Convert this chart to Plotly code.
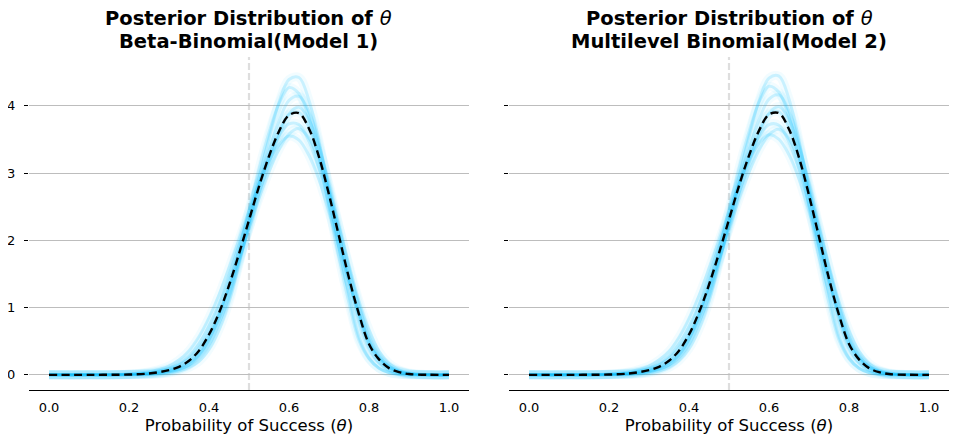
import plotly.graph_objects as go
from plotly.subplots import make_subplots

# theta grid the densities were read at
theta = [0.0, 0.1, 0.2, 0.25, 0.275, 0.3, 0.325, 0.35, 0.375, 0.4, 0.425, 0.45, 0.475, 0.5,
         0.525, 0.55, 0.575, 0.6, 0.625, 0.65, 0.675, 0.7, 0.725, 0.75, 0.775, 0.8, 0.825,
         0.85, 0.875, 0.9, 0.95, 1.0]

# posterior mean density (dashed black), model 1 / model 2
mean_m1 = [0, 0, 0.005, 0.02, 0.04, 0.07, 0.12, 0.21, 0.36, 0.6, 0.92, 1.33, 1.8, 2.3,
           2.8, 3.25, 3.62, 3.86, 3.89, 3.66, 3.24, 2.68, 2.06, 1.44, 0.9, 0.46, 0.23,
           0.1, 0.04, 0.012, 0.001, 0]
mean_m2 = [0, 0, 0.005, 0.02, 0.04, 0.07, 0.12, 0.21, 0.36, 0.6, 0.93, 1.34, 1.81, 2.31,
           2.81, 3.26, 3.63, 3.87, 3.89, 3.65, 3.23, 2.67, 2.05, 1.43, 0.89, 0.46, 0.23,
           0.1, 0.04, 0.012, 0.001, 0]

# a handful of posterior draws (light blue)
draws_m1 = [
    [0, 0, 0, 0.006, 0.012, 0.027, 0.057, 0.11, 0.2, 0.38, 0.67, 1.08, 1.64, 2.26, 2.92, 3.52,
     4.05, 4.39, 4.42, 4.08, 3.48, 2.71, 1.89, 1.17, 0.56, 0.25, 0.1, 0.035, 0.007, 0.002, 0, 0],
    [0, 0, 0.012, 0.045, 0.08, 0.13, 0.22, 0.36, 0.57, 0.85, 1.19, 1.59, 2.01, 2.44, 2.84, 3.18,
     3.42, 3.55, 3.49, 3.26, 2.9, 2.42, 1.9, 1.38, 0.92, 0.52, 0.27, 0.13, 0.06, 0.022, 0.002, 0],
    [0, 0, 0.004, 0.013, 0.021, 0.044, 0.08, 0.144, 0.26, 0.45, 0.77, 1.14, 1.67, 2.23, 2.84, 3.33,
     3.77, 4.08, 4.14, 3.91, 3.43, 2.79, 2.09, 1.4, 0.83, 0.4, 0.18, 0.075, 0.027, 0.006, 0, 0],
    [0, 0, 0.008, 0.032, 0.058, 0.097, 0.17, 0.28, 0.46, 0.73, 1.06, 1.47, 1.93, 2.38, 2.85, 3.23,
     3.55, 3.73, 3.72, 3.47, 3.07, 2.55, 1.97, 1.39, 0.89, 0.46, 0.24, 0.11, 0.048, 0.014, 0.001, 0],
    [0, 0, 0.009, 0.027, 0.05, 0.084, 0.15, 0.24, 0.4, 0.63, 0.93, 1.3, 1.72, 2.17, 2.62, 3.02,
     3.35, 3.58, 3.66, 3.52, 3.2, 2.74, 2.2, 1.63, 1.1, 0.67, 0.35, 0.17, 0.075, 0.03, 0.003, 0],
    [0, 0, 0.001, 0.012, 0.022, 0.045, 0.084, 0.15, 0.29, 0.52, 0.89, 1.34, 1.86, 2.45, 3.06, 3.6,
     4.03, 4.27, 4.18, 3.82, 3.23, 2.5, 1.74, 1.07, 0.51, 0.24, 0.1, 0.035, 0.01, 0.002, 0, 0],
    [0, 0, 0.004, 0.017, 0.034, 0.06, 0.1, 0.18, 0.31, 0.53, 0.84, 1.23, 1.69, 2.18, 2.69, 3.14,
     3.56, 3.88, 3.98, 3.79, 3.38, 2.84, 2.22, 1.59, 1.03, 0.56, 0.28, 0.13, 0.055, 0.018, 0.002, 0],
    [0, 0, 0.005, 0.019, 0.038, 0.066, 0.11, 0.2, 0.34, 0.57, 0.89, 1.3, 1.77, 2.27, 2.78, 3.24,
     3.62, 3.87, 3.9, 3.68, 3.26, 2.7, 2.08, 1.46, 0.92, 0.48, 0.24, 0.11, 0.045, 0.014, 0.001, 0],
]
draws_m2 = [
    [0, 0, 0, 0.006, 0.012, 0.028, 0.058, 0.11, 0.21, 0.39, 0.68, 1.09, 1.65, 2.27, 2.93, 3.54,
     4.07, 4.41, 4.44, 4.1, 3.49, 2.72, 1.9, 1.18, 0.57, 0.25, 0.1, 0.035, 0.007, 0.002, 0, 0],
    [0, 0, 0.012, 0.044, 0.08, 0.13, 0.22, 0.35, 0.56, 0.84, 1.18, 1.58, 2.0, 2.43, 2.84, 3.19,
     3.44, 3.57, 3.5, 3.27, 2.91, 2.43, 1.91, 1.39, 0.93, 0.53, 0.27, 0.13, 0.06, 0.022, 0.002, 0],
    [0, 0, 0.004, 0.013, 0.022, 0.045, 0.081, 0.146, 0.26, 0.46, 0.78, 1.15, 1.68, 2.24, 2.85, 3.35,
     3.79, 4.1, 4.16, 3.92, 3.44, 2.8, 2.09, 1.4, 0.83, 0.4, 0.18, 0.075, 0.027, 0.006, 0, 0],
    [0, 0, 0.008, 0.031, 0.057, 0.096, 0.17, 0.28, 0.46, 0.72, 1.05, 1.46, 1.92, 2.37, 2.84, 3.22,
     3.54, 3.72, 3.71, 3.46, 3.06, 2.54, 1.96, 1.38, 0.88, 0.46, 0.24, 0.11, 0.048, 0.014, 0.001, 0],
    [0, 0, 0.009, 0.027, 0.05, 0.083, 0.15, 0.24, 0.4, 0.62, 0.92, 1.29, 1.71, 2.16, 2.61, 3.01,
     3.34, 3.57, 3.65, 3.51, 3.19, 2.73, 2.19, 1.62, 1.09, 0.66, 0.35, 0.17, 0.074, 0.03, 0.003, 0],
    [0, 0, 0.001, 0.012, 0.022, 0.046, 0.085, 0.15, 0.29, 0.53, 0.9, 1.35, 1.87, 2.46, 3.07, 3.61,
     4.05, 4.29, 4.2, 3.83, 3.24, 2.51, 1.75, 1.07, 0.52, 0.24, 0.1, 0.035, 0.01, 0.002, 0, 0],
    [0, 0, 0.004, 0.017, 0.034, 0.06, 0.1, 0.18, 0.31, 0.53, 0.85, 1.24, 1.7, 2.19, 2.7, 3.15,
     3.57, 3.89, 3.99, 3.8, 3.39, 2.85, 2.22, 1.59, 1.03, 0.56, 0.28, 0.13, 0.055, 0.018, 0.002, 0],
    [0, 0, 0.005, 0.019, 0.038, 0.066, 0.11, 0.2, 0.34, 0.57, 0.9, 1.31, 1.78, 2.28, 2.79, 3.25,
     3.63, 3.88, 3.91, 3.67, 3.25, 2.69, 2.07, 1.45, 0.91, 0.48, 0.24, 0.11, 0.045, 0.014, 0.001, 0],
]

panel_titles = ["Beta-Binomial(Model 1)", "Multilevel Binomial(Model 2)"]
y_ticks = [0, 1, 2, 3, 4]
x_ticks = [0.0, 0.2, 0.4, 0.6, 0.8, 1.0]

FONT = "DejaVu Sans"
THETA_I = '<span style="font-weight:normal"><i>θ</i></span>'

fig = make_subplots(rows=1, cols=2, shared_yaxes=True, horizontal_spacing=0.0435)

for col, (mean, draws) in enumerate([(mean_m1, draws_m1), (mean_m2, draws_m2)], start=1):
    sfx = str(col) if col > 1 else ""
    # soft halo first, then the thinner strokes on top
    for d in draws:
        fig.add_trace(go.Scatter(x=theta, y=d, mode="lines", line_shape="spline",
                                 line=dict(color="rgba(0,191,255,0.05)", width=9),
                                 hoverinfo="skip", showlegend=False), row=1, col=col)
    for d in draws:
        fig.add_trace(go.Scatter(x=theta, y=d, mode="lines", line_shape="spline",
                                 line=dict(color="rgba(0,191,255,0.17)", width=3),
                                 hoverinfo="skip", showlegend=False), row=1, col=col)
    fig.add_trace(go.Scatter(x=theta, y=mean, mode="lines", line_shape="spline",
                             line=dict(color="black", width=2.4, dash="8px,4.5px"),
                             showlegend=False), row=1, col=col)
    # reference line at theta = 0.5
    fig.add_shape(type="line", x0=0.5, x1=0.5, y0=0, y1=1, xref="x" + sfx,
                  yref="y" + sfx + " domain", layer="below",
                  line=dict(color="#dedede", width=2.2, dash="7px,3px"))
    # two-line bold title, one annotation per line to control spacing
    for text, shift in [(f"Posterior Distribution of {THETA_I}", 39),
                        (panel_titles[col - 1], 16)]:
        fig.add_annotation(text=f"<b>{text}</b>", xref="x" + sfx + " domain", yref="paper",
                           x=0.5, y=1, yanchor="middle", yshift=shift, showarrow=False,
                           font=dict(family=FONT, size=19.5, color="black"))

fig.update_xaxes(range=[-0.05, 1.05], tickvals=x_ticks, ticktext=[f"{v:.1f}" for v in x_ticks],
                 showgrid=False, zeroline=False, showline=True, linecolor="black", linewidth=1,
                 ticks="", ticklabelstandoff=5, tickfont=dict(family=FONT, size=13, color="black"),
                 title=dict(text="Probability of Success (<i>θ</i>)", standoff=5,
                            font=dict(family=FONT, size=16.5, color="black")))
fig.update_yaxes(range=[-0.225, 4.725], tickvals=y_ticks, showgrid=True, gridcolor="#bdbdbd",
                 gridwidth=1, zeroline=False, showline=False, ticks="outside", ticklen=4,
                 ticklabelstandoff=6, tickcolor="black",
                 tickfont=dict(family=FONT, size=13, color="black"))

# page adds an 8px body margin, so the figure is 8px smaller than the window
fig.update_layout(width=951, height=440, margin=dict(l=21, r=10, t=49, b=58, autoexpand=False),
                  plot_bgcolor="white", paper_bgcolor="white", showlegend=False)

fig.write_html("out.html")
